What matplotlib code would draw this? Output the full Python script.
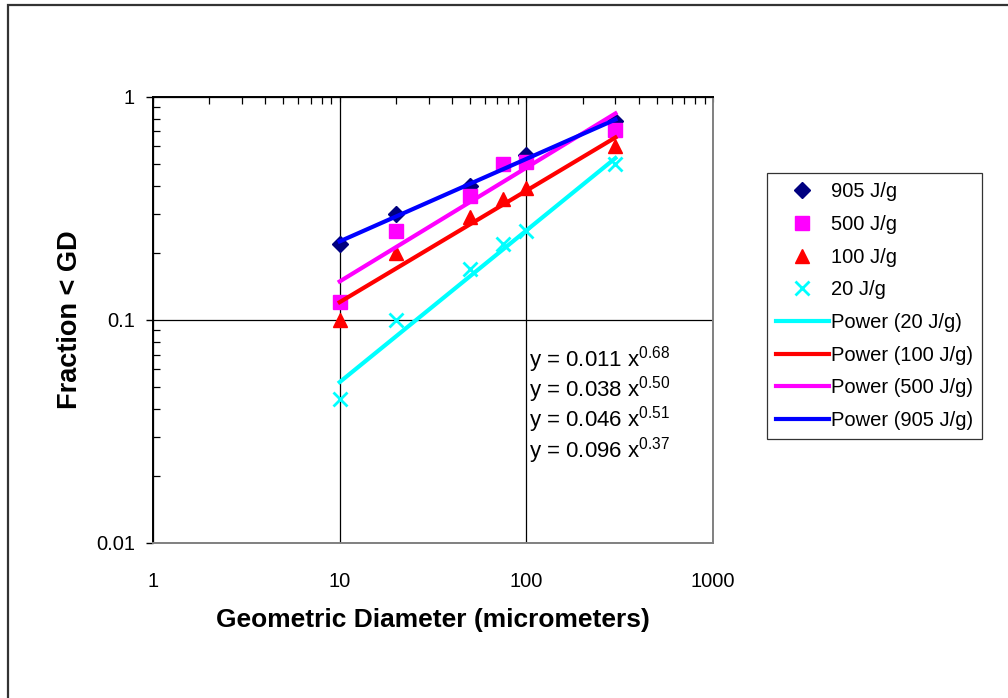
import numpy as np
import matplotlib
matplotlib.use('Agg')
import matplotlib.pyplot as plt
from matplotlib.patches import Rectangle

plt.rcParams['font.family'] = ['Liberation Sans', 'DejaVu Sans']
plt.rcParams['mathtext.fontset'] = 'custom'
plt.rcParams['mathtext.rm'] = 'Liberation Sans'
plt.rcParams['mathtext.it'] = 'Liberation Sans'

# measured points (fraction < GD) per energy
x905 = [10, 20, 50, 100, 300]
y905 = [0.22, 0.30, 0.40, 0.55, 0.78]
x500 = [10, 20, 50, 75, 100, 300]
y500 = [0.12, 0.25, 0.36, 0.50, 0.51, 0.71]
x100 = [10, 20, 50, 75, 100, 300]
y100 = [0.10, 0.20, 0.29, 0.35, 0.39, 0.60]
x20 = [10, 20, 50, 75, 100, 300]
y20 = [0.044, 0.10, 0.17, 0.22, 0.25, 0.50]

# power trendlines y = a * x^b, as printed on the chart
fits = [('20 J/g', 0.011, 0.68, '#00FFFF'),
        ('100 J/g', 0.038, 0.50, '#FF0000'),
        ('500 J/g', 0.046, 0.51, '#FF00FF'),
        ('905 J/g', 0.096, 0.37, '#0000FF')]
fit_range = [10, 300]

fig = plt.figure(figsize=(10.08, 6.98), dpi=100)
ax = fig.add_axes([0.1518, 0.2221, 0.5556, 0.639])

ax.plot(x905, y905, 'D', color='#000080', ms=8, ls='none', label='905 J/g', zorder=3)
ax.plot(x500, y500, 's', color='#FF00FF', ms=10, ls='none', label='500 J/g', zorder=3)
ax.plot(x100, y100, '^', color='#FF0000', ms=10, ls='none', label='100 J/g', zorder=3)
ax.plot(x20, y20, 'x', color='#00FFFF', ms=10, mew=2, ls='none', label='20 J/g', zorder=3)

xf = np.logspace(np.log10(fit_range[0]), np.log10(fit_range[1]), 50)
for name, a, b, c in fits:
    ax.plot(xf, a * xf ** b, color=c, lw=3, label='Power (%s)' % name, zorder=4)

ax.set_xscale('log')
ax.set_yscale('log')
ax.set_xlim(1, 1000)
ax.set_ylim(0.01, 1)
ax.set_xticks([1, 10, 100, 1000])
ax.set_xticklabels(['1', '10', '100', '1000'])
ax.set_yticks([0.01, 0.1, 1])
ax.set_yticklabels(['0.01', '0.1', '1'])
ax.grid(True, which='major', color='black', lw=0.9)

# x axis line sits at the top (Excel style), labels stay below
ax.tick_params(axis='x', which='both', bottom=False, top=True, direction='in',
               labelbottom=True, labeltop=False, labelsize=14.5, pad=21)
ax.tick_params(axis='x', which='minor', length=5, width=0.9)
ax.tick_params(axis='y', which='major', direction='out', length=5, width=1,
               labelsize=14.5, pad=8)
ax.tick_params(axis='y', which='minor', direction='in', length=5, width=0.9, labelleft=False)
for s in ['left', 'top']:
    ax.spines[s].set_color('black')
    ax.spines[s].set_linewidth(1.4)
for s in ['right', 'bottom']:
    ax.spines[s].set_color('#808080')
    ax.spines[s].set_linewidth(1.4)

ax.set_xlabel('Geometric Diameter (micrometers)', fontsize=19, fontweight='bold', labelpad=12)
ax.set_ylabel('Fraction < GD', fontsize=19.5, fontweight='bold', labelpad=9)

eq = ['y = 0.011 x$^{0.68}$', 'y = 0.038 x$^{0.50}$',
      'y = 0.046 x$^{0.51}$', 'y = 0.096 x$^{0.37}$']
ax.text(0.671, 0.446, '\n'.join(eq), transform=ax.transAxes, fontsize=16,
        va='top', ha='left', linespacing=0.97, zorder=5)

leg = ax.legend(loc='upper left', bbox_to_anchor=(0.761, 0.752), bbox_transform=fig.transFigure,
                fontsize=14.5, frameon=True, fancybox=False, edgecolor='black',
                labelspacing=0.68, handlelength=2.6, handletextpad=0.12,
                borderpad=0.45, borderaxespad=0)
leg.get_frame().set_linewidth(0.9)

fig.patches.append(Rectangle((8 / 1008, -0.1), 1.2, 1 - 5 / 698 + 0.1,
                             transform=fig.transFigure, fill=False,
                             edgecolor='#333333', lw=1.6))

fig.savefig('out.png', dpi=100)
